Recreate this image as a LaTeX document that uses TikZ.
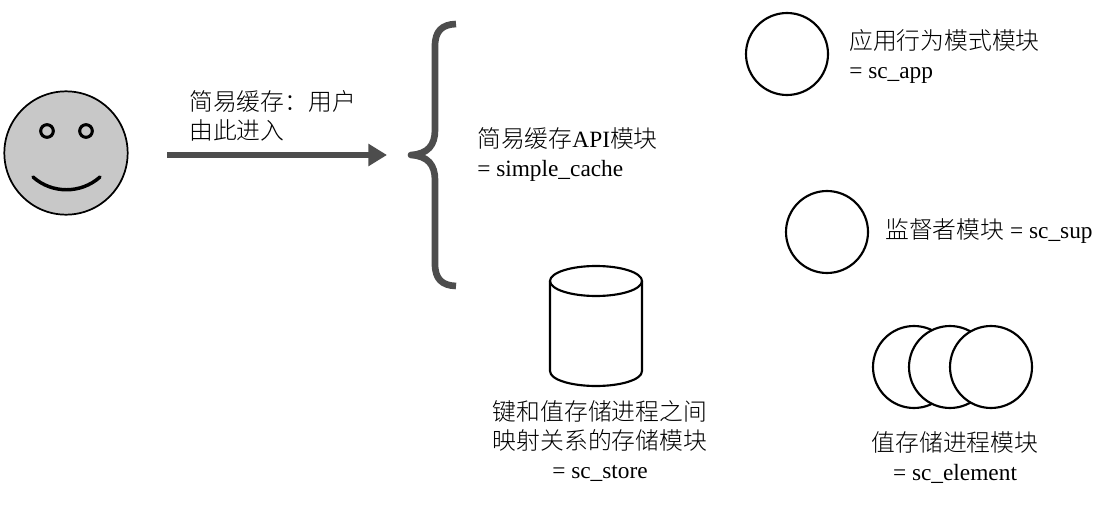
\documentclass[tikz,border=0pt]{standalone}
\usepackage{fontspec}
\setmainfont{Liberation Serif}
\newfontfamily\cjk{Noto Sans CJK SC Light}[Scale=1.02]
\usetikzlibrary{arrows.meta}
\definecolor{faceGray}{RGB}{200,200,200}
\definecolor{arrowGray}{RGB}{77,77,77}

\begin{document}
\begin{tikzpicture}[
    x=0.75pt,y=-0.75pt,
    line cap=round,
    line join=round,
    every node/.style={font=\fontsize{17.5}{21.75}\selectfont,inner sep=0pt},
    lab/.style={align=left,anchor=west},
    labmid/.style={align=center},
    proc/.style={circle,draw=black,fill=white,line width=1.6pt,minimum size=61.5pt},
    eye/.style={circle,draw=black,line width=2.3pt,minimum size=9.5pt},
    outline/.style={draw=black,line width=1.6pt},
    entry/.style={
        draw=arrowGray,
        line width=5.2pt,
        line cap=butt,
        -{Triangle[length=14pt,width=16pt]}
    },
    bracket/.style={draw=arrowGray,line width=5pt,line cap=butt}
]

\useasboundingbox (0,0) rectangle (1096,510);

% ============================================================
% user
% ============================================================

\node[circle,draw=black,fill=faceGray,line width=1.3pt,minimum size=92.5pt] (face) at (66,153) {};
\node[eye] (eyeleft) at (47,131) {};
\node[eye] (eyeright) at (86,131) {};
\draw[line width=2.6pt] (33,177) .. controls (52,194) and (81,194) .. (100,177);

% ============================================================
% entry arrow
% ============================================================

\coordinate (entrytail) at (167,155);
\coordinate (entryhead) at (387,155);
\draw[entry] (entrytail) -- (entryhead);
\node[lab] (entrylab) at (189,116) {{\cjk 简易缓存：用户}\\{\cjk 由此进入}};

% ============================================================
% API brace
% ============================================================

\draw[bracket] (456,24)
    .. controls (442,24.5) and (435,31) .. (435,46)
    -- (435,130)
    .. controls (435,145) and (428,154) .. (411,155)
    .. controls (428,156) and (435,165) .. (435,180)
    -- (435,264)
    .. controls (435,279) and (442,285.5) .. (456,286);
\node[lab] (apilab) at (477,155) {{\cjk 简易缓存}API{\cjk 模块}\\= simple\_cache};

% ============================================================
% store
% ============================================================

\draw[outline] (550,281) -- (550,371)
    .. controls (550,380) and (572,386) .. (596,386)
    .. controls (620,386) and (642,380) .. (642,371)
    -- (642,281);
\draw[outline] (596,281) ellipse[x radius=46,y radius=15];
\node[labmid] (storelab) at (600,441.5) {{\cjk 键和值存储进程之间}\\{\cjk 映射关系的存储模块}\\= sc\_store};

% ============================================================
% app, sup, element
% ============================================================

\node[proc] (app) at (787,54) {};
\node[lab] (applab) at (849,56) {{\cjk 应用行为模式模块}\\= sc\_app};

\node[proc] (sup) at (827,232) {};
\node[lab] (suplab) at (885,231) {{\cjk 监督者模块} = sc\_sup};

\node[proc] (elemone) at (914,367) {};
\node[proc] (elemtwo) at (950,367) {};
\node[proc] (elemthree) at (991,367) {};
\node[labmid] (elemlab) at (955,458) {{\cjk 值存储进程模块}\\= sc\_element};

\end{tikzpicture}
\end{document}
